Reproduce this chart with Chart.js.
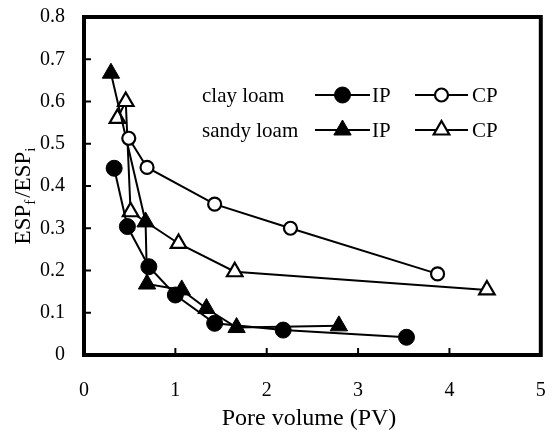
<!DOCTYPE html>
<html>
<head>
<meta charset="utf-8">
<script src="https://cdn.jsdelivr.net/npm/chart.js@4/dist/chart.umd.min.js"></script>
<style>
  html, body { margin: 0; padding: 0; background: #fff; }
  #wrap { width: 552px; height: 433px; }
</style>
</head>
<body>
<div id="wrap"><canvas id="esp"></canvas></div>
<script>
// values (PV, ESPf/ESPi)
const clayIpX = [0.33, 0.475, 0.71, 1.0, 1.43, 2.18, 3.53];
const clayIpY = [0.442, 0.304, 0.209, 0.142, 0.075, 0.059, 0.042];
const clayCpX = [0.49, 0.69, 1.43, 2.26, 3.87];
const clayCpY = [0.513, 0.444, 0.357, 0.30, 0.192];
const sandyIpX = [0.295, 0.674, 0.69, 1.07, 1.34, 1.67, 2.79];
const sandyIpY = [0.667, 0.315, 0.168, 0.154, 0.11, 0.065, 0.069];
const sandyCpX = [0.366, 0.457, 0.51, 1.035, 1.65, 4.41];
const sandyCpY = [0.56, 0.60, 0.339, 0.264, 0.197, 0.154];

const xTicks = [0, 1, 2, 3, 4, 5];
const yTicks = [0, 0.1, 0.2, 0.3, 0.4, 0.5, 0.6, 0.7, 0.8];

const pts = (xs, ys) => xs.map((x, i) => ({ x: x, y: ys[i] }));
const serif = "'Liberation Serif', 'DejaVu Serif', serif";

const mk = (label, data, style, filled, r) => ({
  label, data,
  showLine: true,
  borderColor: '#000',
  borderWidth: 2,
  pointStyle: style,
  pointRadius: r,
  pointHoverRadius: r,
  pointBackgroundColor: filled ? '#000' : '#fff',
  pointBorderColor: '#000',
  pointBorderWidth: filled ? 1 : 2.2
});

// frame, inner ticks, axis titles and the legend block
const decor = {
  id: 'decor',
  afterDraw(chart) {
    const { ctx, chartArea: a, scales } = chart;
    ctx.save();
    ctx.strokeStyle = '#000';
    ctx.lineWidth = 2;
    xTicks.forEach(v => {
      const px = scales.x.getPixelForValue(v);
      ctx.beginPath(); ctx.moveTo(px, a.bottom); ctx.lineTo(px, a.bottom - 7); ctx.stroke();
    });
    yTicks.forEach(v => {
      const py = scales.y.getPixelForValue(v);
      ctx.beginPath(); ctx.moveTo(a.left, py); ctx.lineTo(a.left + 7, py); ctx.stroke();
    });
    ctx.lineWidth = 4;
    ctx.strokeRect(a.left, a.top, a.right - a.left, a.bottom - a.top);

    ctx.fillStyle = '#000';
    // x title
    ctx.font = '24px ' + serif;
    ctx.textAlign = 'center';
    ctx.textBaseline = 'middle';
    ctx.fillText('Pore volume (PV)', 309, 419);

    // y title with subscripts
    ctx.save();
    ctx.translate(22, 196);
    ctx.rotate(-Math.PI / 2);
    ctx.textAlign = 'left';
    ctx.textBaseline = 'alphabetic';
    const big = '23px ' + serif, small = '15px ' + serif;
    ctx.font = big; const w1 = ctx.measureText('ESP').width;
    ctx.font = small; const wf = ctx.measureText('f').width + 2;
    ctx.font = big; const w2 = ctx.measureText('/ESP').width;
    ctx.font = small; const wi = ctx.measureText('i').width;
    let x0 = -(w1 + wf + w2 + wi) / 2;
    const base = 8;
    ctx.font = big; ctx.fillText('ESP', x0, base); x0 += w1;
    ctx.font = small; ctx.fillText('f', x0, base + 5); x0 += wf;
    ctx.font = big; ctx.fillText('/ESP', x0, base); x0 += w2;
    ctx.font = small; ctx.fillText('i', x0, base + 5);
    ctx.restore();

    // legend
    const rows = [
      { name: 'clay loam', y: 95, ip: chart.data.datasets[0], cp: chart.data.datasets[1] },
      { name: 'sandy loam', y: 130, ip: chart.data.datasets[2], cp: chart.data.datasets[3] }
    ];
    ctx.font = '21px ' + serif;
    ctx.textAlign = 'left';
    ctx.textBaseline = 'middle';
    rows.forEach(r => {
      ctx.fillStyle = '#000';
      ctx.fillText(r.name, 202, r.y + 1);
      [[r.ip, 315, 370, 'IP', 372], [r.cp, 415, 468, 'CP', 472]].forEach(([ds, x1, x2, txt, tx]) => {
        ctx.strokeStyle = '#000';
        ctx.lineWidth = 2;
        ctx.beginPath(); ctx.moveTo(x1, r.y); ctx.lineTo(x2, r.y); ctx.stroke();
        ctx.fillStyle = ds.pointBackgroundColor;
        ctx.lineWidth = ds.pointBorderWidth;
        Chart.helpers.drawPoint(ctx, {
          pointStyle: ds.pointStyle,
          radius: ds.pointRadius,
          rotation: 0,
          borderWidth: ds.pointBorderWidth
        }, (x1 + x2) / 2, r.y);
        ctx.fillStyle = '#000';
        ctx.fillText(txt, tx, r.y + 1);
      });
    });
    ctx.restore();
  }
};

new Chart(document.getElementById('esp'), {
  type: 'scatter',
  data: {
    datasets: [
      mk('clay loam IP', pts(clayIpX, clayIpY), 'circle', true, 8),
      mk('clay loam CP', pts(clayCpX, clayCpY), 'circle', false, 6.5),
      mk('sandy loam IP', pts(sandyIpX, sandyIpY), 'triangle', true, 10),
      mk('sandy loam CP', pts(sandyCpX, sandyCpY), 'triangle', false, 9)
    ]
  },
  options: {
    responsive: true,
    maintainAspectRatio: false,
    animation: false,
    layout: { padding: { left: 0, right: 6, top: 17, bottom: 0 } },
    plugins: { legend: { display: false }, tooltip: { enabled: false } },
    scales: {
      x: {
        type: 'linear',
        min: 0, max: 5,
        afterBuildTicks: s => { s.ticks = xTicks.map(v => ({ value: v })); },
        afterFit: s => { s.height = 78; s.paddingLeft = 0; s.paddingRight = 0; },
        grid: { display: false, drawTicks: false },
        border: { display: false },
        ticks: { color: '#000', padding: 24, font: { family: serif, size: 20 } }
      },
      y: {
        type: 'linear',
        min: 0, max: 0.8,
        afterBuildTicks: s => { s.ticks = yTicks.map(v => ({ value: v })); },
        afterFit: s => { s.width = 84; s.paddingTop = 0; s.paddingBottom = 0; },
        grid: { display: false, drawTicks: false },
        border: { display: false },
        ticks: { color: '#000', padding: 19, font: { family: serif, size: 20 } }
      }
    }
  },
  plugins: [decor]
});
</script>
</body>
</html>
